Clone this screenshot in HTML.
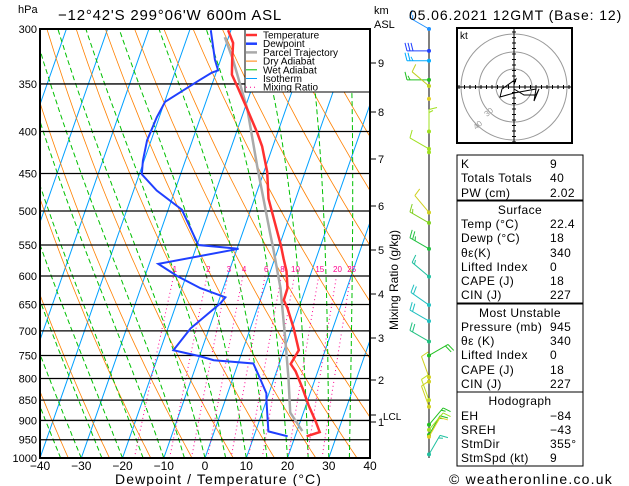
<!DOCTYPE html>
<html><head><meta charset="utf-8"><style>
html,body{margin:0;padding:0;background:#fff;}
svg{display:block;font-family:"Liberation Sans",sans-serif;}
text{font-family:"Liberation Sans",sans-serif;}
</style></head><body>
<svg id="chart" width="629" height="486" viewBox="0 0 629 486" xmlns="http://www.w3.org/2000/svg">
<defs><clipPath id="pc"><rect x="40" y="29" width="330" height="429"/></clipPath>
<clipPath id="hc"><rect x="457" y="28" width="115" height="115"/></clipPath></defs>
<rect x="0" y="0" width="629" height="486" fill="#fff"/>
<g id="bg" clip-path="url(#pc)"></g>
<g id="grid"></g>
<g id="series" clip-path="url(#pc)"></g>
<g id="legend">
<rect x="245" y="29" width="125" height="63" fill="#fff" stroke="#000" stroke-width="1"/>
</g>
<g id="axes"></g>
<g id="wind"></g>
<g id="hodo"></g>
<g id="tables"></g>
<text x="18" y="13" font-size="11">hPa</text>
<text x="58" y="20" font-size="15" letter-spacing="0.8">−12°42'S 299°06'W 600m ASL</text>
<text x="374" y="14" font-size="11">km</text>
<text x="374" y="28" font-size="11">ASL</text>
<text x="409" y="20" font-size="14" letter-spacing="0.9">05.06.2021 12GMT (Base: 12)</text>
<text x="115" y="484" font-size="14" letter-spacing="1.1">Dewpoint / Temperature (°C)</text>
<text x="449" y="484" font-size="14" letter-spacing="1.2">© weatheronline.co.uk</text>
<text transform="translate(398,330) rotate(-90)" font-size="12">Mixing Ratio (g/kg)</text>
</svg>
<script>
const tempP=[301,312,327,341,354,376,401,417,448,483,550,571,592,621,642,657,695,739,768,784,822,862,902,930,941];
const tempT=[-30.7,-28.4,-27.2,-26.0,-23.4,-19.3,-15.0,-12.6,-9.2,-6.6,0.3,2.1,3.9,5.6,5.7,7.3,10.5,13.6,12.8,14.6,17.7,20.6,23.7,25.6,22.8];
const dewP=[301,327,337,339,346,368,384,410,434,451,472,498,550,556,580,600,621,637,648,695,739,752,760,767,793,834,853,928,941];
const dewT=[-34.9,-31.4,-29.7,-31.0,-33.3,-39.9,-40.6,-41.0,-40.3,-39.4,-34.4,-26.7,-19.7,-9.6,-27.8,-22.2,-15.5,-8.7,-9.4,-14.5,-16.8,-9.7,-6.2,3.7,6.0,9.4,10.1,13.1,18.2];
const parcelP=[307,327,376,441,532,556,621,717,800,880,927];
const parcelT=[-30.9,-27.0,-19.3,-12.1,-3.3,-1.2,3.9,9.4,13.5,16.8,21.3];
const pressureTicks=[300,350,400,450,500,550,600,650,700,750,800,850,900,950,1000];
const tempTicks=[-40,-30,-20,-10,0,10,20,30,40];
const kmLabels=[9,8,7,6,5,4,3,2,1];
const kmY=[63,112,159,206,250,294,338,380,422];
const mixRatios=[1,2,3,4,6,8,10,15,20,25];
const windP=[300,319,328,346,352,365,400,420,424,502,517,556,601,651,681,721,750,797,807,850,866,937,990,911,924,942];
const windDir=[300,270,270,270,310,300,0,300,300,320,300,300,310,305,300,300,60,340,340,340,340,30,30,40,40,30];
const windSpd=[15,30,25,15,10,0,15,10,0,10,15,25,15,20,20,20,20,10,0,10,10,15,15,15,10,10];
const windCol=['#1e90ff','#2040ff','#00aaff','#20c020','#c0d020','#e0d020','#a0e020','#a0e020','#a0e020','#d0d020','#80d020','#20c040','#20c0a0','#20c0c0','#20c0c0','#20c080','#20c020','#d0d020','#d0d020','#c0e020','#d0d020','#20c020','#20c0a0','#20c020','#a0e020','#e0d020'];
const hodoU=[0,2,-12,-14,0,22,20,25,22,10,0];
const hodoV=[-2,-8,2,10,6,2,14,2,8,8,2];

const NS='http://www.w3.org/2000/svg';
function yOf(p){return 29+Math.log(p/300)/Math.log(1000/300)*429;}
function xOf(T,p){return 205+4.125*T+0.35*(458-yOf(p));}
function mk(tag,attrs,parent){const e=document.createElementNS(NS,tag);for(const k in attrs)e.setAttribute(k,attrs[k]);parent.appendChild(e);return e;}
const bg=document.getElementById('bg'),grid=document.getElementById('grid'),ser=document.getElementById('series'),axes=document.getElementById('axes');
function poly(pts,parent,stroke,w,dash,name){const e=mk('polyline',{points:pts.map(q=>q[0].toFixed(1)+','+q[1].toFixed(1)).join(' '),fill:'none',stroke:stroke,'stroke-width':w},parent);if(dash)e.setAttribute('stroke-dasharray',dash);


return e;}
for(let T=-140;T<=40;T+=10){poly([[xOf(T,1000),yOf(1000)],[xOf(T,300),yOf(300)]],bg,'#00a0ff',1,null,'isotherm');}
for(let th=230;th<=480;th+=10){const pts=[];for(let p=1000;p>=300;p-=10){pts.push([xOf(th*Math.pow(p/1000,0.286)-273.15,p),yOf(p)]);}poly(pts,bg,'#ff8000',0.8,null,'dry-adiabat');}
function es(Tc){return 6.112*Math.exp(17.67*Tc/(Tc+243.5));}
for(let T0=-40;T0<=40;T0+=5){let T=T0+273.15;const pts=[];for(let p=1000;p>=300;p-=5){pts.push([xOf(T-273.15,p),yOf(p)]);const e=es(T-273.15),rs=0.622*e/(p-e);const dTdp=(287*T+2.5e6*rs)/(1004+2.5e6*2.5e6*rs*0.622/(287*T*T))/p;T-=dTdp*5;}poly(pts,bg,'#00c000',1,'5,3','wet-adiabat');}
mixRatios.forEach(w=>{const pts=[];for(let p=1000;p>=600;p-=10){const e=(w/1000)*p/(0.622+w/1000);const l=Math.log(e/6.112);const Tc=243.5*l/(17.67-l);pts.push([xOf(Tc,p),yOf(p)]);}poly(pts,bg,'#ff0090',1,'1,3','mixing-ratio-line');
const e=(w/1000)*590/(0.622+w/1000);const l=Math.log(e/6.112);const Tc=243.5*l/(17.67-l);const t=mk('text',{x:xOf(Tc,590).toFixed(1),y:yOf(590)+2,'font-size':8,fill:'#ff0090','text-anchor':'middle'},bg);t.textContent=w;

});
pressureTicks.forEach(p=>{const y=yOf(p);const l=mk('line',{x1:40,x2:370,y1:y,y2:y,stroke:'#000','stroke-width':1.3},grid);


const t=mk('text',{x:37,y:y+4,'font-size':11,'text-anchor':'end'},axes);t.textContent=p;

});
tempTicks.forEach(T=>{const t=mk('text',{x:205+4.125*T,y:470,'font-size':12,'text-anchor':'middle'},axes);t.textContent=(T<0?'−'+(-T):T);

});
kmLabels.forEach((k,i)=>{mk('line',{x1:370,x2:376,y1:kmY[i],y2:kmY[i],stroke:'#000'},axes);const t=mk('text',{x:378,y:kmY[i]+4,'font-size':11},axes);t.textContent=k;

});
mk('line',{x1:370,x2:376,y1:415,y2:415,stroke:'#000'},axes);
const lcl=mk('text',{x:383,y:420,'font-size':10},axes);lcl.textContent='LCL';


const fr=mk('rect',{x:40,y:29,width:330,height:429,fill:'none',stroke:'#000','stroke-width':2},axes);


poly(parcelP.map((p,i)=>[xOf(parcelT[i],p),yOf(p)]),ser,'#aaaaaa',2.5,null,'parcel-trajectory');
poly(dewP.map((p,i)=>[xOf(dewT[i],p),yOf(p)]),ser,'#2040ff',2,null,'dewpoint-line');
poly(tempP.map((p,i)=>[xOf(tempT[i],p),yOf(p)]),ser,'#ff3030',2.5,null,'temperature-line');
const leg=document.getElementById('legend');
[['Temperature','#ff3030',2.5,null],['Dewpoint','#2040ff',2.5,null],['Parcel Trajectory','#aaaaaa',2.5,null],['Dry Adiabat','#ff8000',1,null],['Wet Adiabat','#00c000',1,null],['Isotherm','#00a0ff',1,null],['Mixing Ratio','#ff0090',1,'1,3']].forEach((e,i)=>{const y=35+i*8.7;const l=mk('line',{x1:246,x2:257,y1:y,y2:y,stroke:e[1],'stroke-width':e[2]},leg);if(e[3])l.setAttribute('stroke-dasharray',e[3]);


const t=mk('text',{x:263,y:y+3.5,'font-size':10},leg);t.textContent=e[0];

});
const wg=document.getElementById('wind');
mk('line',{x1:429,x2:429,y1:29,y2:458,stroke:'#000','stroke-width':1},wg);
windP.forEach((p,i)=>{const y=yOf(p);const c=windCol[i];const a=windDir[i]*Math.PI/180;const dx=Math.sin(a),dy=-Math.cos(a);
mk('circle',{cx:429,cy:y,r:2,fill:c},wg);
if(windSpd[i]>0){const ex=429+dx*22,ey=y+dy*22;const s=mk('line',{x1:429,y1:y,x2:ex,y2:ey,stroke:c,'stroke-width':1},wg);


let n=Math.round(windSpd[i]/5);let k=0;while(n>0){const bx=ex-dx*k*3,by=ey-dy*k*3;const len=n>=2?8:4;mk('line',{x1:bx,y1:by,x2:bx+(-dy)*len+dx*2,y2:by+dx*len+dy*2,stroke:c,'stroke-width':1},wg);n-=2;k++;}}});
const hg=document.getElementById('hodo');
const hb=mk('g',{'clip-path':'url(#hc)'},hg);
[18,35,53].forEach(r=>mk('circle',{cx:514,cy:87,r:r,fill:'none',stroke:'#999','stroke-width':1},hb));
mk('line',{x1:457,x2:572,y1:87,y2:87,stroke:'#000'},hb);mk('line',{x1:514,x2:514,y1:28,y2:143,stroke:'#000'},hb);
for(let d=-55;d<=55;d+=5.5){mk('line',{x1:514+d,x2:514+d,y1:85,y2:89,stroke:'#000'},hb);mk('line',{x1:512,x2:516,y1:87+d,y2:87+d,stroke:'#000'},hb);}
poly(hodoU.map((u,i)=>[514+u,87+hodoV[i]]),hb,'#000',1,null,'hodograph-trace');
const h1=mk('text',{x:476,y:130,'font-size':8,fill:'#999',transform:'rotate(-40 476 130)'},hb);h1.textContent='40';
const h2=mk('text',{x:487,y:117,'font-size':8,fill:'#999',transform:'rotate(-40 487 117)'},hb);h2.textContent='30';
mk('rect',{x:457,y:28,width:115,height:115,fill:'none',stroke:'#000','stroke-width':2},hg);
const kt=mk('text',{x:460,y:39,'font-size':10},hg);kt.textContent='kt';
const tg=document.getElementById('tables');
const boxes=[[155,45],[201,102],[304,88],[392,74]];
boxes.forEach(b=>mk('rect',{x:457,y:b[0],width:126,height:b[1],fill:'none',stroke:'#000','stroke-width':1},tg));
const rows=[['K','9',164],['Totals Totals','40',178],['PW (cm)','2.02',193],['@Surface','',210],['Temp (°C)','22.4',224],['Dewp (°C)','18',238],['θε(K)','340',253],['Lifted Index','0',267],['CAPE (J)','18',281],['CIN (J)','227',295],['@Most Unstable','',313],['Pressure (mb)','945',327],['θε (K)','340',341],['Lifted Index','0',355],['CAPE (J)','18',370],['CIN (J)','227',384],['@Hodograph','',401],['EH','−84',416],['SREH','−43',430],['StmDir','355°',444],['StmSpd (kt)','9',458]];
rows.forEach(r=>{let t;if(r[0][0]==='@'){t=mk('text',{x:520,y:r[2]+4,'font-size':12,'letter-spacing':0.4,'text-anchor':'middle'},tg);t.textContent=r[0].slice(1);}else{t=mk('text',{x:461,y:r[2]+4,'font-size':12,'letter-spacing':0.4},tg);t.textContent=r[0];const v=mk('text',{x:550,y:r[2]+4,'font-size':12,'letter-spacing':0.4},tg);v.textContent=r[1];}});
</script>
</body></html>
